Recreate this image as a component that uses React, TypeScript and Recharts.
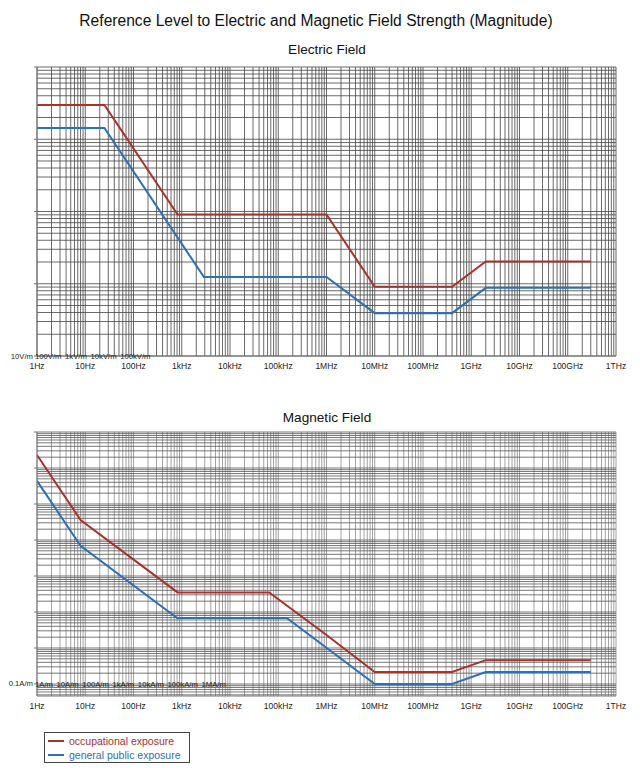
import React from "react";
import { LineChart, Line, XAxis, YAxis, CartesianGrid, Legend } from "recharts";

const FONT = "'Liberation Sans', Arial, sans-serif";
const RED = "#a8322c";
const BLUE = "#2f6fb3";

// frequency axis (Hz)
const freqTicks = [1, 1e1, 1e2, 1e3, 1e4, 1e5, 1e6, 1e7, 1e8, 1e9, 1e10, 1e11, 1e12];
const freqLabels = [
  "1Hz", "10Hz", "100Hz", "1kHz", "10kHz", "100kHz", "1MHz",
  "10MHz", "100MHz", "1GHz", "10GHz", "100GHz", "1THz",
];

// electric field axis (V/m)
const eTicks = [10, 100, 1e3, 1e4, 1e5];
const eLabels = ["10V/m", "100V/m", "1kV/m", "10kV/m", "100kV/m"];

// magnetic field axis (A/m)
const hTicks = [0.1, 1, 10, 100, 1e3, 1e4, 1e5, 1e6];
const hLabels = ["0.1A/m", "1A/m", "10A/m", "100A/m", "1kA/m", "10kA/m", "100kA/m", "1MA/m"];

const seriesNames = ["occupational exposure", "general public exposure"];

// electric field, occupational
const eOccFreq = [1, 25, 820, 1e6, 1e7, 4e8, 2e9, 3e11];
const eOccValue = [29800, 29800, 908, 908, 90.8, 90.8, 203, 203];
// electric field, general public
const eGenFreq = [1, 25, 2880, 1e6, 1e7, 4e8, 2e9, 3e11];
const eGenValue = [14300, 14300, 124, 124, 39.2, 39.2, 87.7, 87.7];

// magnetic field, occupational
const hOccFreq = [1, 8, 820, 65000, 1e6, 1e7, 4e8, 2e9, 3e11];
const hOccValue = [230000, 3600, 35, 35, 2.3, 0.215, 0.215, 0.46, 0.46];
// magnetic field, general public
const hGenFreq = [1, 8, 800, 150000, 1e7, 4e8, 2e9, 3e11];
const hGenValue = [44000, 690, 6.8, 6.8, 0.1, 0.1, 0.215, 0.215];

const MANTISSAS = [1, 2, 3, 4, 5, 6, 7, 8, 9];

function logGrid(lo: number, hi: number) {
  const out: number[] = [];
  for (let e = Math.floor(Math.log10(lo)); e <= Math.ceil(Math.log10(hi)); e++) {
    for (const m of MANTISSAS) {
      const v = m * Math.pow(10, e);
      if (v >= lo && v <= hi * 1.0001) out.push(v);
    }
  }
  return out;
}

const zip = (xs: number[], ys: number[]) => xs.map((f, i) => ({ f, v: ys[i] }));

const xGrid = logGrid(1, 1e12);

function makeXTick(p: any) {
  const i = freqTicks.indexOf(p.payload.value);
  return (
    <text
      x={p.x}
      y={p.y + 10}
      textAnchor="middle"
      dominantBaseline="central"
      fontSize={8.5}
      fill="#222"
      fontFamily={FONT}
    >
      {freqLabels[i]}
    </text>
  );
}

// the value labels all end up in one row on the lowest tick
function makeYTick(labels: string[], axisX: number) {
  return (p: any) => {
    if (p.index !== 0) return <g />;
    return (
      <g fontSize={7.7} fill="#222" fontFamily={FONT}>
        <text x={axisX - 4} y={p.y} textAnchor="end" dominantBaseline="central">
          {labels[0]}
        </text>
        <text x={axisX - 2} y={p.y} textAnchor="start" dominantBaseline="central">
          {labels.slice(1).map((l, k) => (
            <tspan key={l} dx={k === 0 ? 0 : 3.6}>
              {l}
            </tspan>
          ))}
        </text>
      </g>
    );
  };
}

function renderLegend(props: any) {
  const items = [...(props.payload || [])].sort(
    (a: any, b: any) => seriesNames.indexOf(a.value) - seriesNames.indexOf(b.value),
  );
  return (
    <div
      style={{
        width: 146,
        height: 31,
        boxSizing: "border-box",
        border: "1px solid #444",
        paddingTop: 1,
        fontFamily: FONT,
        fontSize: 10.5,
        background: "#fff",
      }}
    >
      {items.map((e: any) => (
        <div
          key={e.value}
          style={{ display: "flex", alignItems: "center", height: 14, color: e.color }}
        >
          <span
            style={{
              display: "inline-block",
              width: 16,
              height: 2,
              background: e.color,
              marginLeft: 3,
              marginRight: 5,
            }}
          />
          {e.value}
        </div>
      ))}
    </div>
  );
}

type PanelProps = {
  top: number;
  height: number;
  plotTop: number;
  plotBottom: number;
  domain: [number, number];
  ticks: number[];
  labels: string[];
  occ: { f: number; v: number }[];
  gen: { f: number; v: number }[];
  hGridColor: string;
  vGridColor: string;
  legend?: boolean;
};

const AXIS_X = 37;
const AXIS_RIGHT = 616;

function Panel(p: PanelProps) {
  return (
    <div style={{ position: "absolute", left: 0, top: p.top }}>
      <LineChart
        width={640}
        height={p.height}
        margin={{
          top: p.plotTop - p.top,
          bottom: p.top + p.height - p.plotBottom - 1,
          left: AXIS_X - 1,
          right: 640 - AXIS_RIGHT,
        }}
      >
        <CartesianGrid
          stroke={p.vGridColor}
          strokeWidth={0.8}
          horizontal={false}
          verticalValues={xGrid}
        />
        <CartesianGrid
          stroke={p.hGridColor}
          strokeWidth={0.8}
          vertical={false}
          horizontalValues={logGrid(p.domain[0], p.domain[1])}
        />
        <XAxis
          dataKey="f"
          type="number"
          scale="log"
          domain={[1, 1e12]}
          ticks={freqTicks}
          allowDataOverflow
          height={1}
          tickLine={false}
          tickSize={0}
          tickMargin={0}
          axisLine={{ stroke: "#777" }}
          tick={makeXTick}
          interval={0}
        />
        <YAxis
          type="number"
          scale="log"
          domain={p.domain}
          ticks={p.ticks}
          allowDataOverflow
          width={1}
          tickSize={3}
          tickMargin={0}
          tickLine={{ stroke: "#777" }}
          axisLine={{ stroke: "#777" }}
          tick={makeYTick(p.labels, AXIS_X)}
          interval={0}
        />
        <Line
          data={p.occ}
          dataKey="v"
          name={seriesNames[0]}
          type="linear"
          stroke={RED}
          strokeWidth={2}
          dot={false}
          isAnimationActive={false}
        />
        <Line
          data={p.gen}
          dataKey="v"
          name={seriesNames[1]}
          type="linear"
          stroke={BLUE}
          strokeWidth={2}
          dot={false}
          isAnimationActive={false}
        />
        {p.legend && (
          <Legend
            layout="vertical"
            align="center"
            verticalAlign="middle"
            content={renderLegend}
            wrapperStyle={{ position: "absolute", left: 44, top: 731.5 - p.top, width: 146, height: 31 }}
          />
        )}
      </LineChart>
    </div>
  );
}

const heading = (text: string, cy: number, size: number, center: number) => (
  <div
    style={{
      position: "absolute",
      left: 0,
      width: center * 2,
      top: cy - 10,
      height: 20,
      lineHeight: "20px",
      textAlign: "center",
      fontFamily: FONT,
      fontSize: size,
      color: "#111",
    }}
  >
    {text}
  </div>
);

export default function App() {
  return (
    <div
      style={{
        position: "absolute",
        left: 0,
        top: 0,
        width: 640,
        height: 776,
        background: "#fff",
        overflow: "hidden",
      }}
    >
      <Panel
        top={0}
        height={380}
        plotTop={67}
        plotBottom={356}
        domain={[10, 1e5]}
        ticks={eTicks}
        labels={eLabels}
        occ={zip(eOccFreq, eOccValue)}
        gen={zip(eGenFreq, eGenValue)}
        hGridColor="#444"
        vGridColor="#444"
      />
      <Panel
        top={400}
        height={376}
        plotTop={432}
        plotBottom={696}
        domain={[0.0464, 1e6]}
        ticks={hTicks}
        labels={hLabels}
        occ={zip(hOccFreq, hOccValue)}
        gen={zip(hGenFreq, hGenValue)}
        hGridColor="#555"
        vGridColor="#8a8a8a"
        legend
      />
      {heading("Reference Level to Electric and Magnetic Field Strength (Magnitude)", 21, 15.6, 316)}
      {heading("Electric Field", 49.5, 13.6, 327)}
      {heading("Magnetic Field", 417.5, 13.6, 327)}
    </div>
  );
}
